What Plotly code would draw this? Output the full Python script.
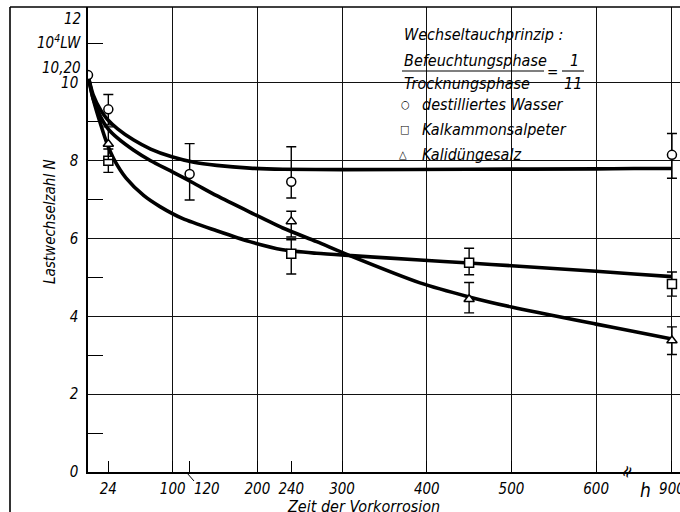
import plotly.graph_objects as go

# ---------------- data ----------------
# axis break: beyond 600 h the scale is compressed so that 900 h sits near 690
BREAK_AT = 600
BREAK_FACTOR = 89.5 / 300.0

# measured points with error bars
start_t = [0]
start_n = [10.2]

t_wasser = [24, 120, 240, 900]
n_wasser = [9.32, 7.66, 7.46, 8.15]
ep_wasser = [0.38, 0.78, 0.90, 0.55]
em_wasser = [0.40, 0.67, 0.42, 0.60]

t_kalk = [24, 240, 450, 900]
n_kalk = [8.00, 5.61, 5.38, 4.83]
ep_kalk = [0.30, 0.36, 0.37, 0.31]
em_kalk = [0.30, 0.52, 0.31, 0.31]

t_kali = [24, 240, 450, 900]
n_kali = [8.43, 6.44, 4.44, 3.38]
ep_kali = [0.44, 0.26, 0.43, 0.35]
em_kali = [0.40, 0.40, 0.35, 0.36]

# drawn mean curves
ct_wasser = [0, 6, 15, 23, 35, 54, 74, 99, 125, 152, 191, 230, 300, 450, 600, 750, 900]
cn_wasser = [10.2, 9.7, 9.3, 9.06, 8.82, 8.53, 8.3, 8.1, 7.96, 7.88, 7.81, 7.78, 7.77, 7.78, 7.79, 7.8, 7.8]

ct_kali = [0, 6, 15, 23, 35, 54, 74, 99, 125, 152, 191, 230, 270, 307, 392, 450, 500, 600, 750, 900]
cn_kali = [10.2, 9.6, 9.12, 8.84, 8.58, 8.27, 8.0, 7.72, 7.42, 7.1, 6.68, 6.27, 5.92, 5.58, 4.86, 4.5, 4.24, 3.80, 3.61, 3.42]

ct_kalk = [0, 6, 15, 23, 31, 45, 66, 85, 112, 152, 191, 230, 270, 311, 392, 450, 500, 600, 750, 900]
cn_kalk = [10.2, 9.6, 8.93, 8.41, 8.02, 7.55, 7.1, 6.82, 6.51, 6.2, 5.92, 5.71, 5.62, 5.56, 5.45, 5.37, 5.30, 5.16, 5.09, 5.02]

grid_hours = [100, 200, 300, 400, 500, 600, 900]
label_hours = [24, 100, 120, 200, 240, 300, 400, 500, 600, 900]
label_text = ["24", "100", "\u2007\u2007\u2007\u2007120", "200", "240", "300", "400", "500", "600", "900"]
y_ticks = [0, 2, 4, 6, 8, 10]
y_ticktext = ["0", "2", "4", "6", "8", "10"]
y_minor = [1, 3, 5, 7, 9, 11]

legend_title = "Wechseltauchprinzip :"
frac_num = "Befeuchtungsphase"
frac_den = "Trocknungsphase"
series_names = ["destilliertes Wasser", "Kalkammonsalpeter", "Kalidüngesalz"]


def xd(t):
    """map hours to the display scale (with axis break)"""
    return t if t <= BREAK_AT else BREAK_AT + (t - BREAK_AT) * BREAK_FACTOR


def xs(ts):
    return [xd(t) for t in ts]


# ---------------- figure geometry helpers ----------------
W, H = 680, 512
ML, MR, MT, MB = 88, 0, 7, 40
PW, PH = W - ML - MR, H - MT - MB


def px(x):
    return (x - ML) / PW


def py(y):
    return (H - MB - y) / PH


FONT = "Liberation Sans Narrow, DejaVu Sans Condensed, Liberation Sans, DejaVu Sans, sans-serif"

fig = go.Figure()

for ct, cn in [(ct_wasser, cn_wasser), (ct_kali, cn_kali), (ct_kalk, cn_kalk)]:
    fig.add_trace(go.Scatter(
        x=xs(ct), y=cn, mode="lines",
        line=dict(color="black", width=3.6, shape="spline", smoothing=0.7),
        hoverinfo="skip", showlegend=False))

for t, n, ep, em, s in [
    (t_wasser, n_wasser, ep_wasser, em_wasser, "circle"),
    (t_kalk, n_kalk, ep_kalk, em_kalk, "square"),
    (t_kali, n_kali, ep_kali, em_kali, "triangle-up"),
]:
    fig.add_trace(go.Scatter(
        x=xs(t), y=n, mode="markers",
        marker=dict(symbol=s, size=9, color="white", line=dict(color="black", width=1.5)),
        error_y=dict(type="data", symmetric=False, array=ep, arrayminus=em,
                     color="black", thickness=1.4, width=5),
        showlegend=False))

fig.add_trace(go.Scatter(
    x=xs(start_t), y=start_n, mode="markers",
    marker=dict(symbol="circle", size=9, color="white", line=dict(color="black", width=1.5)),
    showlegend=False))

fig.update_xaxes(
    range=[0, 699], showgrid=False, zeroline=False, automargin=False,
    showline=True, linecolor="black", linewidth=2,
    tickmode="array", tickvals=xs(label_hours), ticktext=label_text, tickangle=0,
    ticks="inside", ticklen=11, tickwidth=1.3, tickcolor="black",
    ticklabelstandoff=2, ticklabeloverflow="allow", tickfont=dict(size=15),
    minor=dict(tickmode="array", tickvals=xs(grid_hours), ticks="", showgrid=True,
               gridcolor="#111", gridwidth=1),
)
fig.update_yaxes(
    range=[0, 11.95], showgrid=True, gridcolor="#111", gridwidth=1, zeroline=False,
    automargin=False, showline=True, linecolor="black", linewidth=1.5,
    tickmode="array", tickvals=y_ticks, ticktext=y_ticktext, ticks="",
    ticklabelstandoff=5, tickfont=dict(size=15),
    minor=dict(tickmode="array", tickvals=y_minor, ticks="inside", ticklen=15,
               tickwidth=1.3, tickcolor="black", showgrid=False),
)

shapes = [
    # white box behind the key
    dict(type="rect", xref="paper", yref="paper", x0=px(392), x1=px(657), y0=py(164), y1=py(26),
         fillcolor="white", line=dict(width=0), layer="between"),
    # outer frame (top and left)
    dict(type="line", xref="paper", yref="paper", x0=px(10), x1=1.0, y0=py(7), y1=py(7),
         line=dict(color="black", width=1.6)),
    dict(type="line", xref="paper", yref="paper", x0=px(10), x1=px(10), y0=py(7), y1=py(512),
         line=dict(color="black", width=1.6)),
    # fraction lines in the key
    dict(type="line", xref="paper", yref="paper", x0=px(402), x1=px(544), y0=py(71), y1=py(71),
         line=dict(color="black", width=1.1)),
    dict(type="line", xref="paper", yref="paper", x0=px(562), x1=px(584), y0=py(71), y1=py(71),
         line=dict(color="black", width=1.1)),
    # leader line for the 120 label
    dict(type="line", xref="paper", yref="paper", x0=px(187), x1=px(194), y0=py(473), y1=py(481),
         line=dict(color="black", width=1)),
]

ann = []


def note(text, x, y, size=15, xanchor="center", angle=0):
    ann.append(dict(text=text, xref="paper", yref="paper", x=px(x), y=py(y),
                    xanchor=xanchor, yanchor="middle", showarrow=False,
                    font=dict(size=size, family=FONT, color="black", style="italic"),
                    textangle=angle))


note("12", 83, 19, xanchor="right")
note("10<sup>4</sup>LW", 83, 42, xanchor="right")
note("10,20", 83, 68, xanchor="right")
note("Lastwechselzahl N", 50, 222, size=15, angle=-90)
note("Zeit der Vorkorrosion", 363, 506, size=16)
note("h", 645, 490, size=19)
note("\u2248", 626, 471, size=18, angle=-65)

note(legend_title, 402, 35, size=16, xanchor="left")
note(frac_num, 402, 60, size=16, xanchor="left")
note(frac_den, 402, 83, size=16, xanchor="left")
note("=", 552, 72, size=15)
note("1", 574, 60, size=16)
note("11", 573, 83, size=16)
note("\u25cb", 405, 104, size=11)
note("\u25a1", 404, 129, size=11)
note("\u25b3", 403, 155, size=11)
note(series_names[0], 420, 104, size=16, xanchor="left")
note(series_names[1], 420, 129, size=16, xanchor="left")
note(series_names[2], 420, 154, size=16, xanchor="left")

fig.update_layout(
    width=W, height=H,
    margin=dict(l=ML, r=MR, t=MT, b=MB),
    paper_bgcolor="white", plot_bgcolor="white",
    font=dict(family=FONT, size=15, color="black", style="italic"),
    shapes=shapes, annotations=ann, showlegend=False,
)

# the page body has a default 8px margin; remove it so the figure fills the window exactly
fig.write_html("out.html",
               config={"displayModeBar": False},
               post_script="document.body.style.margin='0';document.body.style.padding='0';")
